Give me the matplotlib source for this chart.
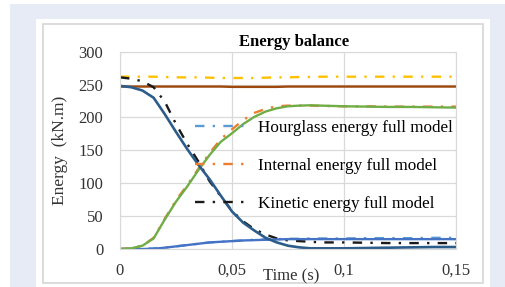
import matplotlib.pyplot as plt
from matplotlib.patches import Rectangle

# --- data ---
t = [0, 0.005, 0.01, 0.015, 0.02, 0.025, 0.03, 0.035, 0.04, 0.045, 0.05,
     0.055, 0.06, 0.065, 0.07, 0.075, 0.08, 0.085, 0.09, 0.1, 0.11, 0.12,
     0.13, 0.14, 0.15]

total_full = [262, 262, 262, 262, 261.5, 261, 261, 261, 260.5, 260, 260,
              260, 260, 260.5, 261, 261, 261.5, 261.5, 262, 262, 262, 262,
              262, 262, 262]
total = [247, 247, 247, 247, 247, 247, 247, 247, 247, 247, 246.5,
         246.5, 246.5, 246.5, 246.5, 247, 247, 247, 247, 247, 247, 247,
         247, 247, 247]
kinetic = [248, 246, 241, 230, 205, 178, 152, 128, 106, 81, 57,
           40, 28, 17, 10, 5, 2.5, 1, 1, 1, 1.5, 2, 2.5, 3, 3]
internal = [0, 1, 5, 16, 45, 72, 95, 120, 143, 163, 176,
            190, 201, 209, 214, 217, 218, 218.5, 218, 217, 216.5, 216,
            216, 215.5, 215]
kinetic_full = [261, 259, 255, 246, 224, 190, 160, 133, 103, 80, 58,
                42, 30, 22, 16, 13, 12, 11, 10, 10, 9.5, 9, 9, 9, 9]
internal_full = [0, 1, 5, 17, 46, 74, 97, 122, 146, 167, 182,
                 196, 207, 213, 217, 218, 218, 218, 217.5, 217, 217, 216.5,
                 216.5, 216.5, 216.5]
hourglass_full = [0, 0, 0.5, 1, 2, 4, 6, 8, 10, 11, 12,
                  13, 14, 14.5, 15, 15.5, 15.5, 16, 16, 16, 16.5, 16.5,
                  16.5, 17, 17]
hourglass = [0, 0, 0, 0.3, 2, 4, 6, 8, 10, 11, 12,
             13, 13.5, 14, 14.5, 15, 15, 15, 15, 15, 15, 15, 15, 15, 15]

xticks = [0, 0.05, 0.1, 0.15]
xtick_labels = ['0', '0,05', '0,1', '0,15']
yticks = [0, 50, 100, 150, 200, 250, 300]

plt.rcParams['font.family'] = ['Liberation Serif', 'DejaVu Serif']

fig = plt.figure(figsize=(5.06, 2.87), dpi=100)
fig.patch.set_facecolor('white')

W, H = 506.0, 287.0
# page background and white card
fig.patches.append(Rectangle((10 / W, 0), 1 - 10 / W, 1 - 4 / H,
                             transform=fig.transFigure, facecolor='#e7ebf5',
                             edgecolor='none', zorder=-3))
fig.patches.append(Rectangle((36 / W, 0), (490 - 36) / W, 1 - 19 / H,
                             transform=fig.transFigure, facecolor='white',
                             edgecolor='none', zorder=-2))
fig.patches.append(Rectangle((43 / W, 4 / H), (483 - 43) / W, (283 - 24) / H,
                             transform=fig.transFigure, facecolor='none',
                             edgecolor='#d6d6d6', lw=1.2, zorder=-1))

ax = fig.add_axes([120 / W, 1 - 249 / H, (456 - 120) / W, (249 - 51.7) / H])
ax.set_facecolor('none')

dd = (0, (4, 3.5, 1, 3.5))
ax.plot(t, total_full, color='#FFC000', lw=1.7, ls=dd)
ax.plot(t, total, color='#9E480E', lw=1.7)
ax.plot(t, hourglass_full, color='#5B9BD5', lw=1.7, ls=dd,
        label='Hourglass energy full model')
ax.plot(t, internal_full, color='#ED7D31', lw=1.7, ls=dd,
        label='Internal energy full model')
ax.plot(t, kinetic_full, color='#1a1a1a', lw=1.7, ls=dd,
        label='Kinetic energy full model')
ax.plot(t, hourglass, color='#4472C4', lw=1.7)
ax.plot(t, internal, color='#70AD47', lw=1.7)
ax.plot(t, kinetic, color='#2b5c8a', lw=1.9)

ax.set_xlim(0, 0.15)
ax.set_ylim(0, 300)
ax.set_xticks(xticks)
ax.set_xticklabels(xtick_labels)
ax.set_yticks(yticks)
ax.tick_params(length=0, labelsize=12, colors='#333333')
ax.tick_params(axis='x', pad=10)
ax.tick_params(axis='y', pad=12)
ax.grid(True, color='#d9d9d9', lw=0.9)
ax.set_axisbelow(True)
for s in ax.spines.values():
    s.set_color('#d9d9d9')

ax.text(0.51, -0.14, 'Time (s)', transform=ax.transAxes, ha='center',
        va='center', fontsize=12, color='#333333')
fig.text(60 / W, 1 - 150 / H, 'Energy  (kN.m)', rotation=90, ha='center',
         va='center', fontsize=12.5, color='#333333')
fig.text(294 / W, 1 - 42 / H, 'Energy balance', ha='center', va='center',
         fontsize=12, fontweight='bold')

ax.legend(loc='upper left', bbox_to_anchor=(0.223, 0.655), frameon=False,
          fontsize=12.3, handlelength=3.2, handletextpad=0.5,
          labelspacing=1.3, borderpad=0, borderaxespad=0)

fig.savefig('out.png', dpi=100)
